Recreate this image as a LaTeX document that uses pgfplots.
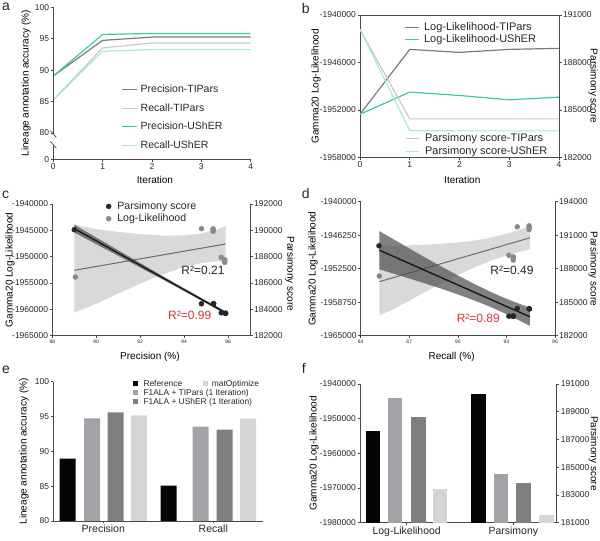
\documentclass[border=0pt]{standalone}
\usepackage{fontspec}
\setmainfont{Liberation Sans}
\usepackage{pgfplots}
\pgfplotsset{compat=1.18}

\definecolor{axgray}{HTML}{4A4A4A}
\definecolor{txt}{HTML}{262626}
\definecolor{ptgray}{HTML}{7A7A7A}
\definecolor{rtgray}{HTML}{C9C9C9}
\definecolor{pugreen}{HTML}{3CCB9D}
\definecolor{rugreen}{HTML}{A6EAD6}
\definecolor{llgray}{HTML}{8A8A8A}
\definecolor{llline}{HTML}{6B6B6B}
\definecolor{bandlight}{HTML}{D9D9D9}
\definecolor{banddark}{HTML}{505050}
\definecolor{barref}{HTML}{050505}
\definecolor{bartp}{HTML}{A3A3A7}
\definecolor{barus}{HTML}{7F7F7F}
\definecolor{barmo}{HTML}{D5D5D5}
\definecolor{rred}{HTML}{E0333B}

\newcommand{\fs}[1]{\fontsize{#1}{#1}\selectfont}

\tikzset{lg/.style={draw=none, fill=none, inner sep=0pt, text=txt, nodes={inner sep=1pt}}}

\pgfplotsset{
  panel/.style={
    scale only axis,
    axis line style={axgray, line width=0.7pt},
    tick style={axgray, line width=0.7pt},
    tick align=outside,
    major tick length=2.5pt,
    tick label style={font=\fs{8.5}, text=txt, inner sep=1.5pt},
    label style={font=\fs{10.5}, text=txt},
    /pgf/number format/assume math mode=true,
    scaled ticks=false,
    legend cell align=left,
  },
}

\begin{document}
\begin{tikzpicture}[x=1pt,y=1pt]
\useasboundingbox (0,0) rectangle (600,541);

% panel letters
\node[anchor=base west, inner sep=0, font=\fs{14}, text=txt] at (2,530) {a};
\node[anchor=base west, inner sep=0, font=\fs{14}, text=txt] at (301.7,527.7) {b};
\node[anchor=base west, inner sep=0, font=\fs{14}, text=txt] at (2,342.7) {c};
\node[anchor=base west, inner sep=0, font=\fs{14}, text=txt] at (301.7,342.7) {d};
\node[anchor=base west, inner sep=0, font=\fs{14}, text=txt] at (2,167.7) {e};
\node[anchor=base west, inner sep=0, font=\fs{14}, text=txt] at (301.7,167.7) {f};

% ---------------- a ----------------
\begin{axis}[panel, at={(53.3pt,381.7pt)}, anchor=south west,
  width=197.4pt, height=152pt,
  xmin=0, xmax=4, ymin=75.82, ymax=100, clip=false,
  axis x line*=bottom, axis y line*=left, y axis line style={draw=none},
  xtick={0,1,2,3,4},
  ytick={75.82,80,85,90,95,100}, yticklabels={0,80,85,90,95,100},
  xlabel={Iteration}, ylabel={Lineage annotation accuracy (\%)},
  every axis x label/.style={at={(axis description cs:0.515,-0.136)}, anchor=center},
  every axis y label/.style={at={(axis description cs:-0.138,0.5)}, anchor=center, rotate=90},
  legend style={lg, at={(axis description cs:0.3465,0.275)}, anchor=west, font=\fs{10.5}, row sep=7.5pt},
  legend image code/.code={\draw[#1] (0pt,0pt) -- (15pt,0pt); \path (16.6pt,0pt);},
]
\addplot[ptgray, line width=1.2pt] coordinates {(0,89.08) (1,94.74) (2,95.26) (3,95.26) (4,95.26)};
\addlegendentry{Precision-TIPars}
\addplot[rtgray, line width=1.2pt] coordinates {(0,85.26) (1,93.53) (2,94.32) (3,94.32) (4,94.32)};
\addlegendentry{Recall-TIPars}
\addplot[pugreen, line width=1.2pt] coordinates {(0,89.08) (1,95.68) (2,95.84) (3,95.84) (4,95.84)};
\addlegendentry{Precision-UShER}
\addplot[rugreen, line width=1.2pt] coordinates {(0,85.26) (1,93.00) (2,93.27) (3,93.27) (4,93.27)};
\addlegendentry{Recall-UShER}
% broken y axis
\draw[axgray, line width=0.7pt] (axis cs:0,100) -- (axis cs:0,79.84);
\draw[axgray, line width=0.7pt] (axis cs:0,78.14) -- (axis cs:0,75.82);
\draw[axgray, line width=0.7pt] ([shift={(-3pt,3.5pt)}]axis cs:0,79.84) -- ([shift={(3pt,-3.5pt)}]axis cs:0,79.84);
\draw[axgray, line width=0.7pt] ([shift={(-3pt,3.5pt)}]axis cs:0,78.14) -- ([shift={(3pt,-3.5pt)}]axis cs:0,78.14);
\end{axis}

% ---------------- b ----------------
\begin{axis}[panel, at={(360pt,383.7pt)}, anchor=south west,
  width=199pt, height=142.3pt,
  xmin=0, xmax=4, ymin=-1958000, ymax=-1940000,
  tick pos=left, xtick={0,1,2,3,4},
  ytick={-1958000,-1952000,-1946000,-1940000},
  yticklabels={-1958000,-1952000,-1946000,-1940000},
  xlabel={Iteration}, ylabel={Gamma20 Log-Likelihood},
  every axis x label/.style={at={(axis description cs:0.514,-0.16)}, anchor=center},
  every axis y label/.style={at={(axis description cs:-0.221,0.5)}, anchor=center, rotate=90},
  legend style={lg, at={(axis description cs:0.2211,0.871)}, anchor=west, font=\fs{11}, row sep=1pt},
  legend image code/.code={\draw[#1] (0pt,0pt) -- (14.3pt,0pt); \path (17.7pt,0pt);},
]
\addplot[ptgray, line width=1.2pt] coordinates {(0,-1952550) (1,-1944350) (2,-1944730) (3,-1944350) (4,-1944220)};
\addlegendentry{Log-Likelihood-TIPars}
\addplot[pugreen, line width=1.2pt] coordinates {(0,-1952550) (1,-1949755) (2,-1950180) (3,-1950730) (4,-1950390)};
\addlegendentry{Log-Likelihood-UShER}
\end{axis}
\begin{axis}[panel, at={(360pt,383.7pt)}, anchor=south west,
  width=199pt, height=142.3pt,
  xmin=0, xmax=4, ymin=182000, ymax=191000,
  axis y line*=right, axis x line=none,
  ytick={182000,185000,188000,191000},
  yticklabels={182000,185000,188000,191000},
  ylabel={Parsimony score},
  every axis y label/.style={at={(axis description cs:1.172,0.5)}, anchor=center, rotate=-90},
  legend style={lg, at={(axis description cs:0.2261,0.0885)}, anchor=west, font=\fs{11}, row sep=1.7pt},
  legend image code/.code={\draw[#1] (0pt,0pt) -- (13.3pt,0pt); \path (17.7pt,0pt);},
]
\addplot[rtgray, line width=1.2pt] coordinates {(0,190093) (1,184430) (2,184430) (3,184430) (4,184430)};
\addlegendentry{Parsimony score-TIPars}
\addplot[rugreen, line width=1.2pt] coordinates {(0,190093) (1,183690) (2,183670) (3,183670) (4,183670)};
\addlegendentry{Parsimony score-UShER}
\end{axis}

% ---------------- c ----------------
\begin{axis}[panel, at={(52.3pt,205.3pt)}, anchor=south west,
  width=197.7pt, height=131.7pt,
  xmin=88, xmax=97, ymin=-1965000, ymax=-1940000,
  axis x line*=bottom, axis y line*=left,
  xtick={88,90,92,94,96}, xticklabel style={font=\fs{5}},
  ytick={-1965000,-1960000,-1955000,-1950000,-1945000,-1940000},
  yticklabels={-1965000,-1960000,-1955000,-1950000,-1945000,-1940000},
  xlabel={Precision (\%)}, ylabel={Gamma20 Log-Likelihood},
  every axis x label/.style={at={(axis description cs:0.494,-0.162)}, anchor=center},
  every axis y label/.style={at={(axis description cs:-0.214,0.5)}, anchor=center, rotate=90},
  legend style={lg, at={(axis description cs:0.2706,0.935)}, anchor=west, font=\fs{10.6}, row sep=1.1pt},
  legend image code/.code={\draw[#1] plot coordinates {(2.5pt,0pt)}; \path (0pt,0pt) (9.9pt,0pt);},
]
\addlegendimage{only marks, mark=*, mark size=2.5pt, black!85}
\addlegendentry{Parsimony score}
\addplot[fill=bandlight, draw=none, forget plot] coordinates {
  (89,-1943900) (90,-1944780) (91,-1945290) (92,-1945720) (93,-1945990) (94,-1945970) (94.74,-1945610) (95.5,-1944870) (95.89,-1944150)
  (95.89,-1951100) (95.5,-1950880) (94.74,-1951240) (94,-1951960) (93,-1953380) (92,-1955110) (91,-1956990) (90,-1958950) (89,-1960600)
} -- cycle;
\addplot[llline, line width=1pt, forget plot] coordinates {(89,-1952590) (95.89,-1947590)};
\addplot[only marks, mark=*, mark size=2.5pt, llgray] coordinates {
  (89.05,-1953860) (94.79,-1944680) (95.32,-1944700) (95.32,-1944900) (95.32,-1945200)
  (95.69,-1950130) (95.85,-1950570) (95.85,-1950800) (95.85,-1951080)};
\addlegendentry{Log-Likelihood}
\end{axis}
\begin{axis}[panel, at={(52.3pt,205.3pt)}, anchor=south west,
  width=197.7pt, height=131.7pt,
  xmin=88, xmax=97, ymin=182000, ymax=192000,
  axis y line*=right, axis x line=none,
  ytick={182000,184000,186000,188000,190000,192000},
  yticklabels={182000,184000,186000,188000,190000,192000},
  ylabel={Parsimony score},
  every axis y label/.style={at={(axis description cs:1.202,0.47)}, anchor=center, rotate=-90},
]
\addplot[fill=banddark, fill opacity=0.72, draw=none] coordinates {
  (89,190430) (90,189457) (91,188485) (92,187517) (93,186554) (94,185601) (95,184669) (95.89,183856)
  (95.89,183624) (95,184463) (94,185385) (93,186288) (92,187179) (91,188065) (90,188949) (89,189830)
} -- cycle;
\addplot[black!90, line width=1.4pt] coordinates {(89,190130) (95.89,183740)};
\addplot[only marks, mark=*, mark size=2.5pt, black!85] coordinates {
  (89.0,190050) (94.79,184425) (95.34,184425) (95.34,184425) (95.34,184425)
  (95.69,183740) (95.89,183700) (95.89,183700) (95.89,183700)};
\end{axis}
\node[font=\fs{12}, text=txt] at (203,271) {R²=0.21};
\node[font=\fs{12}, text=rred] at (189.7,226) {R²=0.99};

% ---------------- d ----------------
\begin{axis}[panel, at={(360.7pt,205.3pt)}, anchor=south west,
  width=194.3pt, height=134pt,
  xmin=84, xmax=96, ymin=-1965000, ymax=-1940000,
  axis x line*=bottom, axis y line*=left,
  xtick={84,87,90,93,96}, xticklabel style={font=\fs{5}},
  ytick={-1965000,-1958750,-1952500,-1946250,-1940000},
  yticklabels={-1965000,-1958750,-1952500,-1946250,-1940000},
  xlabel={Recall (\%)}, ylabel={Gamma20 Log-Likelihood},
  every axis x label/.style={at={(axis description cs:0.468,-0.159)}, anchor=center},
  every axis y label/.style={at={(axis description cs:-0.245,0.5)}, anchor=center, rotate=90},
]
\addplot[fill=bandlight, draw=none] coordinates {
  (85.15,-1948000) (86,-1948276) (87,-1948146) (88,-1948015) (89,-1947835) (90,-1947604) (91,-1947273) (92,-1946743) (92.74,-1946191) (93.5,-1945522) (94.45,-1944635)
  (94.45,-1948835) (93.5,-1949622) (92.74,-1950291) (92,-1951043) (91,-1952273) (90,-1953704) (89,-1955235) (88,-1956815) (87,-1958446) (86,-1960076) (85.15,-1961200)
} -- cycle;
\addplot[llline, line width=1pt] coordinates {(85.15,-1954925) (94.45,-1946735)};
\addplot[only marks, mark=*, mark size=2.5pt, llgray] coordinates {
  (85.15,-1953880) (93.67,-1944680) (94.40,-1944500) (94.40,-1944800) (94.40,-1945190)
  (93.15,-1949980) (93.42,-1950280) (93.42,-1950600) (93.42,-1950910)};
\end{axis}
\begin{axis}[panel, at={(360.7pt,205.3pt)}, anchor=south west,
  width=194.3pt, height=134pt,
  xmin=84, xmax=96, ymin=182000, ymax=194000,
  axis y line*=right, axis x line=none,
  ytick={182000,185000,188000,191000,194000},
  yticklabels={182000,185000,188000,191000,194000},
  ylabel={Parsimony score},
  every axis y label/.style={at={(axis description cs:1.197,0.5)}, anchor=center, rotate=-90},
]
\addplot[fill=banddark, fill opacity=0.72, draw=none] coordinates {
  (85.15,191367) (86,190653) (87,189817) (88,188987) (89,188178) (90,187397) (91,186645) (92,185944) (92.74,185469) (93.5,185022) (94.45,184513)
  (94.45,182873) (93.5,183582) (92.74,184109) (92,184584) (91,185165) (90,185697) (89,186198) (88,186671) (87,187125) (86,187571) (85.15,187947)
} -- cycle;
\addplot[black!90, line width=1.4pt] coordinates {(85.15,189657) (94.45,183693)};
\addplot[only marks, mark=*, mark size=2.5pt, black!85] coordinates {
  (85.13,190050) (93.67,184436) (94.41,184409) (94.41,184409) (94.41,184409)
  (93.15,183747) (93.42,183747) (93.42,183747) (93.42,183747)};
\end{axis}
\node[font=\fs{12}, text=txt] at (512,271) {R²=0.49};
\node[font=\fs{12}, text=rred] at (478.3,222.7) {R²=0.89};

% ---------------- e ----------------
\begin{axis}[panel, at={(53.3pt,20pt)}, anchor=south west,
  width=209.7pt, height=139.3pt,
  xmin=0, xmax=209.7, ymin=80, ymax=100,
  axis x line*=bottom, axis y line*=left,
  xtick={50,160}, xticklabels={Precision,Recall}, xticklabel style={font=\fs{10.5}},
  ytick={80,85,90,95,100},
  ylabel={Lineage annotation accuracy (\%)},
  every axis y label/.style={at={(axis description cs:-0.14,0.5)}, anchor=center, rotate=90},
]
\addplot[ybar, bar width=16, bar shift=0pt, fill=barref, draw=none] coordinates {(14.2,88.95) (115.2,85.07)};
\addplot[ybar, bar width=16, bar shift=0pt, fill=bartp, draw=none] coordinates {(38.9,94.74) (147.2,93.54)};
\addplot[ybar, bar width=16, bar shift=0pt, fill=barus, draw=none] coordinates {(62.2,95.60) (171.2,93.11)};
\addplot[ybar, bar width=16, bar shift=0pt, fill=barmo, draw=none] coordinates {(85.5,95.17) (194.7,94.69)};
\end{axis}
% legend of e
\fill[barref] (132.7,155.2) rectangle (137.7,160.2);
\node[anchor=base west, inner sep=0, font=\fs{8.4}, text=txt] at (143.3,154.7) {Reference};
\fill[barmo] (203.3,155.2) rectangle (208.3,160.2);
\node[anchor=base west, inner sep=0, font=\fs{8.4}, text=txt] at (211.7,154.7) {matOptimize};
\fill[bartp] (132.7,146.2) rectangle (137.7,151.2);
\node[anchor=base west, inner sep=0, font=\fs{8.4}, text=txt] at (143.3,145.7) {F1ALA + TIPars (1 Iteration)};
\fill[barus] (132.7,136.8) rectangle (137.7,141.8);
\node[anchor=base west, inner sep=0, font=\fs{8.4}, text=txt] at (143.3,136.3) {F1ALA + UShER (1 Iteration)};

% ---------------- f ----------------
\begin{axis}[panel, at={(360pt,18.3pt)}, anchor=south west,
  width=196.7pt, height=138.7pt,
  xmin=0, xmax=196.7, ymin=0, ymax=40000,
  y filter/.expression={y+1980000},
  axis x line*=bottom, axis y line*=left,
  xtick={46.7,153.3}, xticklabels={Log-Likelihood,Parsimony}, xticklabel style={font=\fs{10.5}},
  ytick={0,10000,20000,30000,40000},
  yticklabels={-1980000,-1970000,-1960000,-1950000,-1940000},
  ylabel={Gamma20 Log-Likelihood},
  every axis y label/.style={at={(axis description cs:-0.234,0.5)}, anchor=center, rotate=90},
]
\addplot[ybar, bar width=14.5, bar shift=0pt, fill=barref, draw=none] coordinates {(12.85,-1953460)};
\addplot[ybar, bar width=14.5, bar shift=0pt, fill=bartp, draw=none] coordinates {(35,-1944135)};
\addplot[ybar, bar width=14.5, bar shift=0pt, fill=barus, draw=none] coordinates {(58.35,-1949615)};
\addplot[ybar, bar width=14.5, bar shift=0pt, fill=barmo, draw=none] coordinates {(80.2,-1970190)};
\end{axis}
\begin{axis}[panel, at={(360pt,18.3pt)}, anchor=south west,
  width=196.7pt, height=138.7pt,
  xmin=0, xmax=196.7, ymin=181000, ymax=191000,
  axis y line*=right, axis x line=none,
  ytick={181000,183000,185000,187000,189000,191000},
  yticklabels={181000,183000,185000,187000,189000,191000},
  ylabel={Parsimony score},
  every axis y label/.style={at={(axis description cs:1.187,0.5)}, anchor=center, rotate=-90},
]
\addplot[ybar, bar width=14.5, bar shift=0pt, fill=barref, draw=none] coordinates {(118.35,190255)};
\addplot[ybar, bar width=14.5, bar shift=0pt, fill=bartp, draw=none] coordinates {(140.8,184533)};
\addplot[ybar, bar width=14.5, bar shift=0pt, fill=barus, draw=none] coordinates {(163.35,183837)};
\addplot[ybar, bar width=14.5, bar shift=0pt, fill=barmo, draw=none] coordinates {(186.3,181577)};
\end{axis}

\end{tikzpicture}
\end{document}
